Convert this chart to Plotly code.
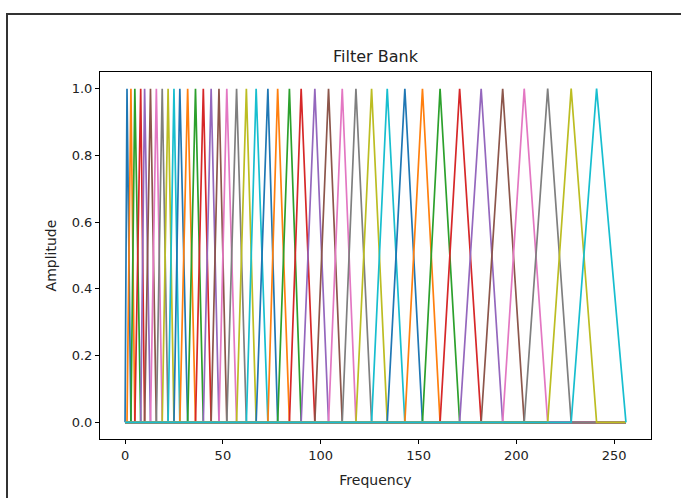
import plotly.graph_objects as go

# Filter edge bins (0 = start of first filter, last = end of last filter)
edge_bins = [0, 1, 3, 5, 8, 10, 13, 16, 19, 22, 25, 28, 32, 36, 40, 44, 48, 52, 57, 62, 67,
             73, 78, 84, 90, 97, 104, 111, 118, 126, 134, 143, 152, 161, 171, 182, 193,
             204, 216, 228, 241, 256]
n_bins = 256
x_ticks = [0, 50, 100, 150, 200, 250]
y_ticks = [0.0, 0.2, 0.4, 0.6, 0.8, 1.0]
colors = ["#1f77b4", "#ff7f0e", "#2ca02c", "#d62728", "#9467bd",
          "#8c564b", "#e377c2", "#7f7f7f", "#bcbd22", "#17becf"]

fig = go.Figure()
n_filters = len(edge_bins) - 2
for m in range(1, n_filters + 1):
    left, center, right = edge_bins[m - 1], edge_bins[m], edge_bins[m + 1]
    xs = [0, left, center, right, n_bins]
    ys = [0, 0, 1, 0, 0]
    fig.add_trace(go.Scatter(x=xs, y=ys, mode="lines",
                             line=dict(color=colors[(m - 1) % 10], width=1.7),
                             showlegend=False, hoverinfo="skip"))

L, R, T, B = 100, 651, 72, 439
W, H = 681, 498
pw, ph = R - L, B - T

def px(x):
    return (x - L) / pw

def py(y):
    return (B - y) / ph

fig.update_layout(
    width=W, height=H,
    margin=dict(l=L, r=W - R, t=T, b=H - B),
    paper_bgcolor="white", plot_bgcolor="white",
    font=dict(family="DejaVu Sans", size=13, color="#222"),
    title=dict(text="Filter Bank", x=0.5 * (L + R) / W, xanchor="center",
               y=1 - 56 / H, yanchor="middle", font=dict(size=16, color="#222")),
    xaxis=dict(range=[-12.8, 268.8], tickvals=x_ticks, ticktext=[str(v) for v in x_ticks],
               showgrid=False, zeroline=False, showline=True, linecolor="black",
               linewidth=1, mirror=True, ticks="outside", ticklen=4, tickwidth=1,
               tickcolor="black", tickfont=dict(size=13),
               title=dict(text="Frequency", font=dict(size=14, color="#222"), standoff=13)),
    yaxis=dict(range=[-0.05, 1.05], tickvals=y_ticks, ticktext=[f"{v:.1f}" for v in y_ticks],
               showgrid=False, zeroline=False, showline=True, linecolor="black",
               linewidth=1, mirror=True, ticks="outside", ticklen=4, tickwidth=1,
               tickcolor="black", tickfont=dict(size=13),
               title=dict(text="Amplitude", font=dict(size=14, color="#222"), standoff=11)),
    shapes=[dict(type="path", xref="paper", yref="paper",
                 path=f"M {px(7)} {py(H + 5)} L {px(7)} {py(14)} L {px(W + 5)} {py(14)}",
                 line=dict(color="#333333", width=2))],
)

fig.write_html("out.html")
